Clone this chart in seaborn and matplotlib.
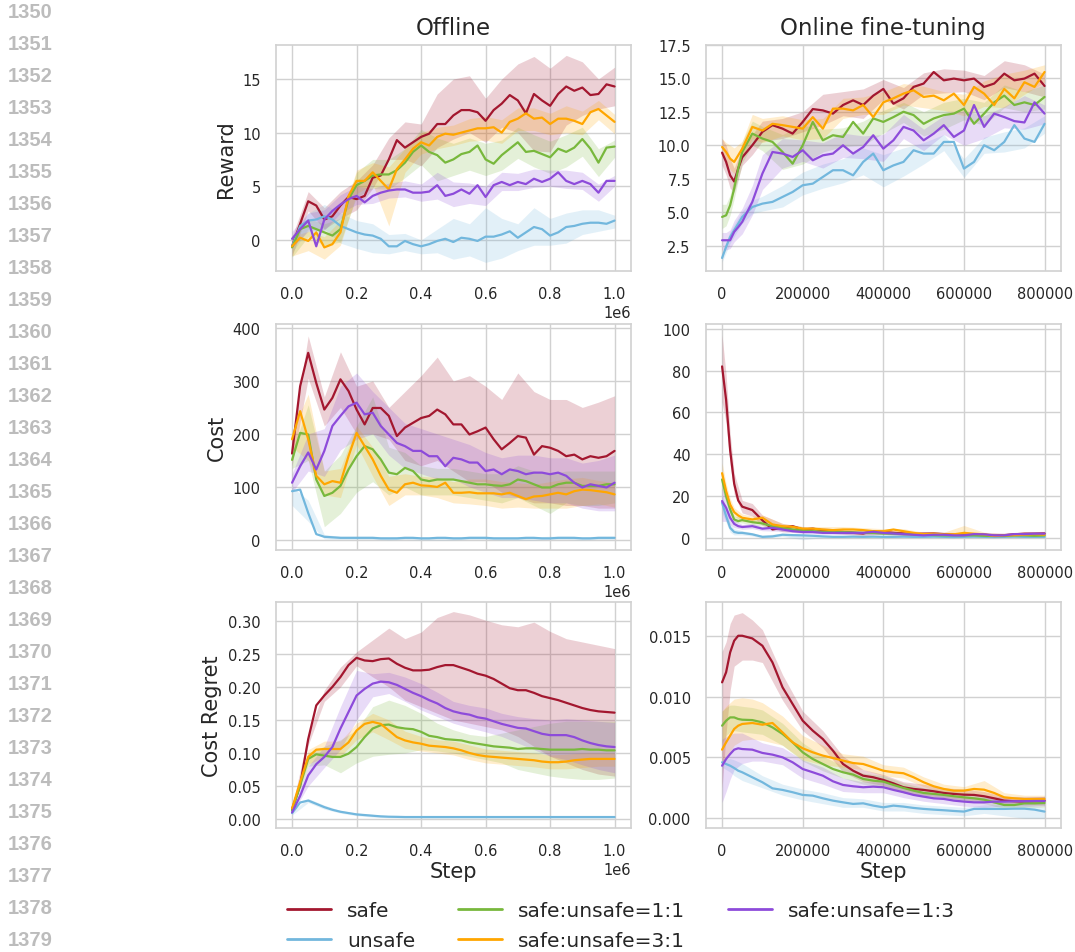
import matplotlib
matplotlib.use("Agg")
import matplotlib.pyplot as plt
import seaborn as sns
from matplotlib.lines import Line2D

# ---------------------------------------------------------------- series
labels = ["safe", "unsafe", "safe:unsafe=1:1", "safe:unsafe=3:1", "safe:unsafe=1:3"]
colors = {
    "safe": "#a3172f",
    "unsafe": "#72b7dd",
    "safe:unsafe=1:1": "#78b83c",
    "safe:unsafe=3:1": "#ffa600",
    "safe:unsafe=1:3": "#8d4bda",
}

# x grids (environment steps)
off_steps = list(range(0, 1_000_001, 25_000))
off_band_steps = list(range(0, 1_000_001, 50_000))
on_steps = [0, 10_000, 20_000, 30_000, 40_000, 50_000] + list(range(75_000, 800_001, 25_000))
on_band_steps = [0, 10_000, 20_000, 30_000, 50_000, 75_000] + list(range(100_000, 800_001, 50_000))

# ---------------------------------------------------------------- offline reward
off_reward = {
    "safe": [-0.6, 1.5, 3.6, 3.2, 1.9, 2.2, 3.2, 4.0, 3.8, 4.1, 5.8, 6.0, 7.5, 9.3, 8.6, 9.1, 9.6, 9.9, 10.8, 10.8,
             11.6, 12.1, 12.1, 11.9, 11.1, 12.1, 12.7, 13.5, 13.0, 11.8, 13.6, 13.0, 12.5, 13.6, 14.3, 13.9, 14.2,
             13.5, 13.6, 14.5, 14.3],
    "unsafe": [-0.6, 1.3, 1.8, 1.9, 2.2, 1.9, 1.3, 1.0, 0.7, 0.5, 0.4, 0.1, -0.6, -0.6, -0.1, -0.4, -0.6, -0.4, -0.1,
               0.1, -0.2, 0.2, 0.1, -0.1, 0.3, 0.3, 0.5, 0.8, 0.2, 0.7, 1.2, 1.0, 0.4, 0.7, 1.2, 1.3, 1.5, 1.6, 1.6,
               1.5, 1.8],
    "safe:unsafe=1:1": [-0.7, 1.0, 1.3, 1.0, 0.7, 0.4, 1.0, 3.8, 5.1, 5.5, 6.0, 6.1, 6.1, 6.5, 7.2, 8.2, 8.8, 8.2, 7.9,
                        7.2, 7.5, 8.0, 8.2, 8.8, 7.5, 7.1, 7.9, 8.5, 9.1, 8.2, 8.3, 8.0, 7.7, 8.5, 8.2, 8.6, 9.4, 8.5,
                        7.2, 8.6, 8.7],
    "safe:unsafe=3:1": [-0.6, 0.2, -0.1, 0.7, -0.7, -0.4, 0.7, 4.1, 5.5, 5.5, 6.3, 5.5, 4.7, 6.6, 7.5, 8.5, 9.1, 8.8,
                        9.6, 9.9, 9.8, 10.0, 10.2, 10.4, 10.4, 10.5, 10.0, 11.0, 11.3, 11.8, 11.3, 11.4, 10.8, 11.3,
                        11.3, 11.1, 10.8, 11.9, 12.2, 11.6, 11.0],
    "safe:unsafe=1:3": [0.1, 1.0, 1.8, -0.6, 1.9, 2.7, 3.3, 3.8, 4.1, 3.5, 4.1, 4.4, 4.6, 4.7, 4.7, 4.4, 4.4, 4.5, 5.1,
                        4.1, 4.3, 4.7, 4.3, 5.1, 4.0, 5.1, 5.4, 5.1, 5.4, 5.2, 5.7, 5.4, 5.7, 6.3, 5.5, 5.2, 5.5, 5.2,
                        4.4, 5.5, 5.5],
}
off_reward_hi = {
    "safe": [0.3, 4.5, 3.0, 4.5, 5.5, 7.0, 9.5, 11.0, 10.8, 13.6, 15.0, 15.3, 13.2, 15.0, 16.4, 17.1, 16.0, 17.2, 16.6, 15.0, 16.1],
    "unsafe": [0.0, 2.5, 3.3, 2.5, 1.8, 1.5, 0.5, 0.6, 0.0, 1.0, 2.0, 1.5, 3.0, 2.0, 1.5, 3.0, 2.0, 2.5, 2.8, 2.8, 2.3],
    "safe:unsafe=1:1": [0.0, 2.0, 1.5, 2.0, 6.3, 7.5, 7.5, 8.5, 10.3, 9.5, 9.0, 9.5, 9.0, 9.3, 10.5, 9.8, 9.2, 9.8, 10.5, 8.5, 9.3],
    "safe:unsafe=3:1": [0.3, 0.8, 0.3, 1.8, 6.5, 7.2, 6.8, 8.5, 10.0, 10.5, 10.7, 11.3, 11.5, 11.2, 12.3, 12.3, 11.8, 12.5, 12.0, 13.0, 11.7],
    "safe:unsafe=1:3": [0.8, 2.5, 2.8, 4.2, 5.0, 4.8, 5.3, 5.5, 5.2, 6.3, 5.4, 5.3, 5.0, 6.3, 6.2, 6.6, 6.5, 6.5, 6.3, 5.2, 6.0],
}
off_reward_lo = {
    "safe": [-1.5, 2.7, 1.0, 2.0, 2.8, 4.8, 7.5, 7.5, 6.9, 8.6, 9.4, 10.0, 9.1, 10.5, 10.0, 8.3, 8.2, 10.7, 11.6, 12.2, 12.5],
    "unsafe": [-1.2, 1.0, 1.0, -0.3, -0.8, -1.2, -1.3, -1.0, -1.3, -1.2, -1.8, -1.5, -2.1, -1.7, -1.0, -0.5, -0.5, -0.3, 0.5, 0.8, 1.1],
    "safe:unsafe=1:1": [-1.6, 0.3, -0.5, -0.2, 4.0, 4.8, 4.7, 5.8, 7.0, 5.5, 6.0, 6.5, 6.0, 6.5, 7.6, 6.8, 6.2, 6.8, 7.8, 5.9, 7.7],
    "safe:unsafe=3:1": [-1.5, -1.0, -1.8, -0.5, 4.3, 5.2, 1.3, 6.3, 8.0, 8.5, 8.8, 9.2, 9.3, 9.0, 10.2, 10.2, 9.8, 10.0, 9.8, 11.2, 9.9],
    "safe:unsafe=1:3": [-0.7, 0.8, 0.9, 2.5, 3.3, 3.4, 3.9, 4.0, 3.6, 3.8, 3.1, 3.4, 3.2, 4.6, 4.6, 4.9, 5.0, 4.8, 4.7, 3.6, 5.0],
}

# ---------------------------------------------------------------- online reward
on_reward = {
    "safe": [9.45, 8.76, 7.76, 7.3, 8.26, 9.1, 10.0, 11.0, 11.5, 11.24, 10.87, 11.74, 12.7, 12.6, 12.36, 13.0, 13.35,
             13.0, 13.7, 14.2, 13.1, 13.5, 14.35, 14.6, 15.46, 14.84, 14.97, 14.84, 14.97, 14.35, 14.6, 15.34, 14.84,
             14.97, 15.34, 14.42],
    "unsafe": [1.6, 2.43, 3.17, 3.67, 4.16, 4.66, 5.4, 5.65, 5.78, 6.15, 6.52, 7.02, 7.14, 7.64, 8.14, 8.14, 7.76, 8.76,
               9.38, 8.14, 8.5, 8.76, 9.63, 9.38, 9.38, 10.25, 10.25, 8.26, 8.76, 10.0, 9.63, 10.25, 11.5, 10.5, 10.25,
               11.6],
    "safe:unsafe=1:1": [4.66, 4.78, 5.53, 6.77, 8.26, 9.5, 10.87, 10.5, 10.25, 9.5, 8.63, 10.0, 11.74, 10.37, 10.75,
                        10.62, 11.74, 10.87, 12.0, 11.74, 12.1, 12.5, 12.25, 11.6, 12.0, 12.25, 12.36, 12.73, 11.6,
                        12.36, 13.2, 13.7, 13.0, 13.2, 13.0, 13.6],
    "safe:unsafe=3:1": [9.87, 9.5, 9.0, 8.76, 9.25, 9.75, 11.37, 11.1, 11.6, 11.5, 11.37, 11.24, 12.1, 11.24, 12.73,
                        12.73, 12.6, 13.0, 12.1, 13.2, 13.5, 13.85, 14.1, 13.6, 13.7, 13.35, 13.85, 13.0, 14.35, 13.85,
                        13.0, 14.2, 13.5, 14.7, 14.35, 15.46],
    "safe:unsafe=1:3": [2.92, 2.92, 2.92, 3.54, 3.9, 4.29, 5.78, 7.89, 9.5, 9.38, 9.13, 9.63, 8.88, 9.25, 9.38, 10.0,
                        9.38, 9.87, 10.75, 9.75, 10.37, 11.37, 11.1, 10.37, 10.87, 11.5, 10.62, 11.1, 13.0, 11.37,
                        12.36, 12.1, 11.8, 11.7, 13.2, 12.36],
}
on_reward_hi = {
    "safe": [10.5, 10.0, 9.0, 8.3, 9.8, 10.8, 11.8, 12.0, 12.5, 13.8, 14.0, 14.2, 14.9, 14.3, 15.4, 15.7, 15.6, 15.2, 16.3, 16.0, 15.3],
    "unsafe": [1.9, 2.8, 3.6, 4.1, 5.1, 5.9, 6.2, 7.0, 8.0, 8.6, 9.0, 9.8, 9.3, 9.8, 10.2, 10.8, 9.0, 10.6, 11.0, 11.3, 12.2],
    "safe:unsafe=1:1": [5.6, 5.6, 6.3, 7.6, 10.3, 11.8, 11.4, 10.8, 11.5, 11.2, 11.3, 11.8, 12.6, 13.2, 12.5, 13.2, 13.5, 13.2, 14.5, 14.0, 14.5],
    "safe:unsafe=3:1": [10.5, 10.2, 10.0, 9.8, 10.3, 12.3, 12.0, 12.2, 11.9, 12.0, 13.5, 13.6, 14.0, 14.6, 14.4, 14.0, 13.8, 14.8, 15.3, 15.6, 16.0],
    "safe:unsafe=1:3": [3.5, 3.5, 3.7, 4.4, 5.3, 7.0, 9.3, 10.5, 10.4, 10.2, 10.9, 10.7, 10.8, 12.3, 11.2, 12.2, 12.6, 12.2, 12.9, 13.7, 13.0],
}
on_reward_lo = {
    "safe": [8.5, 7.8, 6.8, 6.5, 8.5, 9.3, 10.3, 10.5, 11.0, 11.5, 12.2, 12.0, 13.4, 12.7, 13.8, 13.9, 14.0, 13.4, 14.3, 14.0, 13.6],
    "unsafe": [1.3, 2.0, 2.7, 3.2, 4.2, 4.9, 5.1, 5.4, 6.3, 6.8, 7.2, 7.8, 6.9, 7.7, 8.6, 9.6, 7.6, 9.4, 9.5, 9.8, 10.9],
    "safe:unsafe=1:1": [3.8, 4.0, 4.8, 6.0, 8.7, 10.0, 9.6, 8.2, 8.6, 9.5, 9.9, 10.0, 10.9, 11.7, 10.7, 11.2, 11.9, 11.5, 12.8, 12.5, 12.7],
    "safe:unsafe=3:1": [9.2, 8.8, 8.2, 7.9, 9.1, 10.5, 10.2, 10.7, 10.4, 10.5, 12.0, 12.3, 12.3, 13.0, 12.8, 12.6, 12.2, 12.9, 12.8, 13.8, 14.7],
    "safe:unsafe=1:3": [2.2, 2.2, 2.3, 2.8, 3.4, 4.8, 6.7, 8.3, 8.8, 8.3, 9.1, 9.0, 8.8, 10.5, 9.6, 10.8, 10.0, 10.5, 11.3, 11.2, 11.6],
}

# ---------------------------------------------------------------- offline cost
off_cost = {
    "safe": [163, 290, 353, 296, 246, 268, 303, 281, 246, 218, 249, 249, 234, 196, 212, 221, 230, 234, 246, 237, 218,
             218, 199, 205, 212, 190, 171, 183, 196, 193, 161, 177, 174, 168, 158, 161, 152, 158, 155, 158, 168],
    "unsafe": [92, 95, 51, 11, 6, 5, 4, 4, 4, 4, 4, 3, 3, 3, 4, 4, 3, 3, 4, 4, 3, 3, 4, 4, 4, 3, 3, 3, 3, 4, 4, 3, 3,
               4, 4, 4, 3, 3, 4, 4, 4],
    "safe:unsafe=1:1": [151, 202, 199, 114, 83, 89, 102, 133, 158, 177, 171, 152, 127, 124, 136, 130, 114, 111, 114,
                        114, 114, 111, 108, 105, 105, 103, 102, 105, 114, 111, 105, 99, 99, 105, 108, 108, 102, 102,
                        102, 105, 105],
    "safe:unsafe=3:1": [190, 243, 190, 121, 105, 111, 108, 158, 202, 177, 152, 121, 95, 89, 105, 108, 103, 102, 100,
                        108, 89, 89, 90, 88, 88, 88, 86, 89, 83, 77, 82, 83, 86, 89, 86, 92, 95, 94, 92, 90, 86],
    "safe:unsafe=1:3": [108, 139, 165, 133, 168, 215, 234, 252, 259, 237, 240, 215, 199, 183, 177, 168, 168, 158, 158,
                        139, 155, 152, 146, 146, 130, 133, 124, 133, 130, 124, 127, 127, 124, 127, 121, 108, 99, 105,
                        102, 99, 108],
}
off_cost_hi = {
    "safe": [190, 385, 270, 355, 290, 300, 250, 280, 310, 345, 300, 310, 290, 265, 315, 280, 265, 265, 250, 260, 272],
    "unsafe": [100, 75, 10, 7, 7, 7, 6, 7, 6, 6, 6, 7, 7, 6, 6, 6, 7, 7, 6, 7, 7],
    "safe:unsafe=1:1": [165, 255, 130, 160, 215, 270, 175, 165, 140, 135, 135, 130, 125, 125, 140, 130, 125, 130, 130, 130, 130],
    "safe:unsafe=3:1": [205, 275, 130, 135, 215, 175, 120, 125, 120, 118, 110, 115, 115, 110, 108, 105, 110, 115, 118, 112, 108],
    "safe:unsafe=1:3": [125, 200, 210, 290, 315, 280, 250, 220, 210, 200, 190, 180, 165, 155, 160, 160, 155, 155, 145, 150, 160],
}
off_cost_lo = {
    "safe": [140, 305, 215, 250, 200, 200, 190, 150, 140, 150, 130, 110, 110, 90, 80, 70, 70, 65, 65, 60, 60],
    "unsafe": [65, 35, 2, 1, 1, 1, 0, 1, 0, 0, 0, 1, 1, 0, 0, 0, 1, 1, 0, 1, 1],
    "safe:unsafe=1:1": [135, 150, 25, 50, 90, 110, 85, 100, 85, 85, 85, 80, 75, 70, 80, 65, 50, 70, 65, 65, 70],
    "safe:unsafe=3:1": [175, 150, 85, 80, 180, 120, 65, 85, 85, 80, 70, 68, 65, 60, 62, 60, 60, 60, 65, 68, 62],
    "safe:unsafe=1:3": [90, 130, 120, 170, 190, 200, 160, 135, 125, 115, 115, 100, 90, 80, 80, 75, 70, 70, 60, 55, 55],
}

# ---------------------------------------------------------------- online cost
on_cost = {
    "safe": [82, 66, 42, 26, 18, 15, 13.4, 8.5, 4.1, 4.9, 5.7, 4.1, 4.5, 3.7, 3.0, 2.9, 2.5, 2.2, 3.3, 2.9, 2.5, 2.2,
             1.9, 2.1, 2.2, 1.9, 1.6, 1.6, 1.9, 1.6, 1.1, 1.4, 1.8, 2.1, 2.1, 2.2],
    "unsafe": [16.9, 10.5, 4.9, 2.9, 2.5, 2.5, 1.8, 0.6, 0.8, 1.6, 1.4, 1.3, 1.1, 0.8, 0.6, 0.6, 0.7, 0.6, 0.7, 0.6,
               0.6, 0.7, 0.6, 0.6, 0.7, 0.6, 0.5, 0.6, 0.7, 0.6, 0.5, 0.6, 0.7, 0.6, 0.6, 0.6],
    "safe:unsafe=1:1": [28, 20, 13.7, 8.9, 8.1, 8.6, 7.6, 7.0, 5.7, 4.9, 4.1, 3.7, 3.3, 3.0, 3.0, 2.9, 2.7, 2.5, 2.5,
                        2.2, 2.1, 1.9, 1.8, 1.6, 1.4, 1.3, 1.3, 1.3, 1.3, 1.1, 1.0, 1.0, 1.3, 1.3, 1.1, 1.3],
    "safe:unsafe=3:1": [31, 22.5, 16, 12.4, 10.8, 9.7, 8.9, 9.7, 6.5, 5.7, 5.4, 4.5, 4.5, 4.1, 3.8, 4.1, 4.1, 3.8, 3.3,
                        3.3, 4.1, 3.3, 2.5, 1.9, 2.1, 1.8, 1.8, 2.5, 2.1, 1.8, 1.0, 1.3, 1.4, 1.6, 1.9, 1.6],
    "safe:unsafe=1:3": [17.7, 14.5, 9.7, 6.8, 5.7, 5.3, 5.7, 4.5, 4.9, 4.1, 3.3, 2.9, 2.9, 2.5, 2.5, 2.5, 2.5, 2.5,
                        3.0, 2.5, 2.2, 1.9, 1.6, 1.3, 1.6, 1.6, 1.3, 1.3, 1.9, 1.8, 1.3, 1.3, 1.9, 1.9, 2.1, 2.1],
}
on_cost_hi = {
    "safe": [97, 78, 50, 31, 18, 16.5, 11, 7, 5.5, 5, 4, 3.2, 4, 3.2, 3, 2.8, 2.6, 2.5, 2.4, 3, 3.2],
    "unsafe": [21, 13.5, 7, 4.5, 3.5, 2.6, 1.3, 2.4, 2.0, 1.4, 1.1, 1.1, 1.1, 1.1, 1.1, 1.1, 1.1, 1.1, 1.1, 1.1, 1.1],
    "safe:unsafe=1:1": [32, 23, 16, 10.5, 10, 9.5, 8.5, 6, 4.6, 3.8, 3.6, 3.2, 2.9, 2.5, 2.2, 1.9, 1.9, 1.7, 1.6, 1.9, 1.9],
    "safe:unsafe=3:1": [36, 26, 19, 14.5, 11.5, 10.5, 11, 7, 5.5, 5.5, 5.5, 5, 4.5, 4.5, 2.8, 2.8, 6.0, 2.8, 2, 2.4, 2.4],
    "safe:unsafe=1:3": [24, 18.5, 12.5, 8.5, 6.5, 7, 5.5, 5, 3.6, 3.2, 3.2, 3.2, 3.2, 2.6, 2, 2.2, 2, 2.5, 2, 2.6, 2.8],
}
on_cost_lo = {
    "safe": [65, 55, 35, 21, 12, 10.5, 6, 3, 2.8, 2.5, 1.8, 1.2, 1.8, 1.2, 1.2, 1, 0.8, 0.8, 0.6, 1.2, 1.3],
    "unsafe": [12, 7.5, 2.8, 1.5, 1.5, 1.0, 0, 0.8, -0.8, 0.2, 0.1, 0.1, 0.1, 0.1, 0.1, 0.1, 0.1, 0.1, 0.1, 0.1, 0.1],
    "safe:unsafe=1:1": [23, 17, 11.5, 7.5, 7.2, 6.2, 5.8, 3.9, 2.9, 2.3, 2.2, 1.9, 1.6, 1.3, 1.1, 0.8, 0.8, 0.6, 0.5, 0.8, 0.8],
    "safe:unsafe=3:1": [26, 19, 13, 10.5, 8, 7.5, 8.2, 4.5, 3.5, 3, 3, 2.8, 2.2, 2.3, 1.2, 1.0, 1.2, 1.0, 0.7, 0.9, 0.9],
    "safe:unsafe=1:3": [8, 8, 6.5, 5, 4.2, 4.5, 3.5, 3.2, 2.2, 1.8, 1.8, 1.8, 1.8, 1.3, 0.7, 1.0, 0.7, 1.1, 0.7, 1.2, 1.4],
}

# ---------------------------------------------------------------- offline cost regret
off_regret = {
    "safe": [0.015, 0.051, 0.121, 0.172, 0.187, 0.200, 0.215, 0.233, 0.244, 0.240, 0.239, 0.242, 0.243, 0.235, 0.229,
             0.225, 0.225, 0.226, 0.230, 0.233, 0.233, 0.229, 0.225, 0.220, 0.217, 0.212, 0.205, 0.198, 0.195, 0.195,
             0.191, 0.186, 0.183, 0.180, 0.176, 0.172, 0.168, 0.165, 0.163, 0.162, 0.161],
    "unsafe": [0.009, 0.025, 0.028, 0.023, 0.018, 0.014, 0.011, 0.009, 0.007, 0.006, 0.005, 0.004, 0.0035, 0.0033,
               0.003, 0.003, 0.003, 0.003, 0.003, 0.003, 0.003, 0.003, 0.003, 0.003, 0.003, 0.003, 0.003, 0.003,
               0.003, 0.003, 0.003, 0.003, 0.003, 0.003, 0.003, 0.003, 0.003, 0.003, 0.003, 0.003, 0.003],
    "safe:unsafe=1:1": [0.013, 0.051, 0.091, 0.098, 0.096, 0.094, 0.094, 0.099, 0.109, 0.124, 0.137, 0.142, 0.143,
                        0.139, 0.137, 0.136, 0.132, 0.126, 0.124, 0.121, 0.120, 0.119, 0.116, 0.114, 0.112, 0.110,
                        0.109, 0.108, 0.106, 0.107, 0.107, 0.106, 0.105, 0.105, 0.105, 0.105, 0.106, 0.105, 0.105,
                        0.104, 0.104],
    "safe:unsafe=3:1": [0.016, 0.056, 0.094, 0.105, 0.106, 0.106, 0.106, 0.116, 0.134, 0.144, 0.147, 0.144, 0.134,
                        0.124, 0.119, 0.116, 0.114, 0.111, 0.110, 0.109, 0.107, 0.104, 0.100, 0.097, 0.095, 0.094,
                        0.093, 0.092, 0.091, 0.090, 0.089, 0.087, 0.086, 0.086, 0.087, 0.089, 0.090, 0.091, 0.091,
                        0.091, 0.091],
    "safe:unsafe=1:3": [0.010, 0.035, 0.066, 0.083, 0.094, 0.109, 0.137, 0.162, 0.187, 0.197, 0.205, 0.208, 0.207,
                        0.203, 0.197, 0.191, 0.186, 0.180, 0.175, 0.168, 0.163, 0.160, 0.158, 0.154, 0.152, 0.148,
                        0.144, 0.141, 0.138, 0.137, 0.133, 0.129, 0.127, 0.127, 0.127, 0.124, 0.119, 0.115, 0.112,
                        0.110, 0.109],
}
off_regret_hi = {
    "safe": [0.018, 0.128, 0.195, 0.23, 0.253, 0.271, 0.289, 0.273, 0.283, 0.305, 0.314, 0.309, 0.301, 0.294, 0.291, 0.298, 0.284, 0.273, 0.268, 0.263, 0.258],
    "unsafe": [0.012, 0.031, 0.021, 0.013, 0.009, 0.007, 0.005, 0.0045, 0.0045, 0.0045, 0.0045, 0.0045, 0.0045, 0.0045, 0.0045, 0.0045, 0.0045, 0.0045, 0.0045, 0.0045, 0.0045],
    "safe:unsafe=1:1": [0.016, 0.1, 0.11, 0.12, 0.135, 0.17, 0.18, 0.172, 0.16, 0.145, 0.135, 0.128, 0.125, 0.13, 0.135, 0.14, 0.145, 0.148, 0.148, 0.148, 0.148],
    "safe:unsafe=3:1": [0.019, 0.105, 0.118, 0.118, 0.145, 0.16, 0.15, 0.133, 0.125, 0.12, 0.118, 0.112, 0.106, 0.104, 0.102, 0.1, 0.097, 0.098, 0.1, 0.1, 0.1],
    "safe:unsafe=1:3": [0.012, 0.08, 0.11, 0.17, 0.225, 0.22, 0.222, 0.215, 0.205, 0.192, 0.178, 0.172, 0.168, 0.16, 0.155, 0.152, 0.15, 0.152, 0.15, 0.148, 0.146],
}
off_regret_lo = {
    "safe": [0.012, 0.112, 0.178, 0.2, 0.232, 0.215, 0.2, 0.18, 0.17, 0.16, 0.15, 0.145, 0.14, 0.135, 0.125, 0.11, 0.095, 0.085, 0.075, 0.068, 0.065],
    "unsafe": [0.006, 0.025, 0.015, 0.009, 0.005, 0.003, 0.002, 0.0015, 0.0015, 0.0015, 0.0015, 0.0015, 0.0015, 0.0015, 0.0015, 0.0015, 0.0015, 0.0015, 0.0015, 0.0015, 0.0015],
    "safe:unsafe=1:1": [0.010, 0.08, 0.082, 0.07, 0.085, 0.095, 0.098, 0.1, 0.105, 0.103, 0.1, 0.095, 0.09, 0.085, 0.075, 0.07, 0.065, 0.062, 0.06, 0.06, 0.062],
    "safe:unsafe=3:1": [0.013, 0.083, 0.094, 0.095, 0.12, 0.132, 0.12, 0.107, 0.103, 0.1, 0.097, 0.09, 0.085, 0.083, 0.081, 0.079, 0.076, 0.076, 0.078, 0.08, 0.08],
    "safe:unsafe=1:3": [0.008, 0.05, 0.078, 0.105, 0.15, 0.185, 0.19, 0.178, 0.165, 0.155, 0.145, 0.138, 0.132, 0.125, 0.115, 0.105, 0.095, 0.09, 0.082, 0.075, 0.07],
}

# ---------------------------------------------------------------- online cost regret
on_regret = {
    "safe": [0.01117, 0.0120, 0.01363, 0.01459, 0.0150, 0.0150, 0.01478, 0.01418, 0.01281, 0.01076, 0.00939, 0.00802,
             0.0072, 0.00651, 0.00556, 0.00446, 0.00391, 0.0035, 0.00337, 0.00315, 0.00287, 0.00255, 0.00241,
             0.00233, 0.00222, 0.00208, 0.002, 0.00194, 0.00192, 0.00181, 0.00164, 0.00145, 0.0014, 0.00137, 0.0014,
             0.00145],
    "unsafe": [0.0046, 0.00446, 0.00432, 0.00413, 0.00391, 0.00378, 0.00337, 0.00296, 0.00246, 0.00233, 0.00214,
               0.00192, 0.00186, 0.00164, 0.00145, 0.00131, 0.00118, 0.00123, 0.00104, 0.0009, 0.00104, 0.00096,
               0.00085, 0.00077, 0.00071, 0.00066, 0.0006, 0.00055, 0.00077, 0.00077, 0.00077, 0.00077, 0.00079,
               0.00079, 0.00071, 0.00055],
    "safe:unsafe=1:1": [0.00761, 0.00802, 0.00829, 0.00829, 0.00816, 0.0081, 0.00807, 0.00788, 0.00747, 0.00693,
                        0.00624, 0.00542, 0.00487, 0.00446, 0.00405, 0.00378, 0.00359, 0.00323, 0.00309, 0.00301,
                        0.00274, 0.00249, 0.00227, 0.00208, 0.002, 0.00192, 0.00181, 0.00172, 0.00164, 0.00153,
                        0.00131, 0.00109, 0.00109, 0.00123, 0.00123, 0.00126],
    "safe:unsafe=3:1": [0.00564, 0.00624, 0.00679, 0.00734, 0.00761, 0.00775, 0.00783, 0.00769, 0.00783, 0.00706,
                        0.00624, 0.00575, 0.00542, 0.00515, 0.00495, 0.00474, 0.00454, 0.00446, 0.00419, 0.00391,
                        0.00378, 0.0037, 0.00337, 0.00296, 0.00263, 0.00241, 0.00227, 0.00227, 0.00241, 0.00235,
                        0.00208, 0.00172, 0.00164, 0.00159, 0.00159, 0.00159],
    "safe:unsafe=1:3": [0.00432, 0.00487, 0.00528, 0.00564, 0.00575, 0.00569, 0.00564, 0.00537, 0.00523, 0.00501,
                        0.0046, 0.00405, 0.00378, 0.0035, 0.00304, 0.00274, 0.00263, 0.00255, 0.0026, 0.00255,
                        0.00233, 0.00214, 0.00192, 0.00178, 0.00164, 0.00159, 0.00145, 0.00137, 0.00131, 0.00131,
                        0.00137, 0.00137, 0.0014, 0.0014, 0.00142, 0.00142],
}
on_regret_hi = {
    "safe": [0.0137, 0.0145, 0.016, 0.0167, 0.0169, 0.0163, 0.0155, 0.0118, 0.0088, 0.0072, 0.0051, 0.004, 0.0036, 0.003, 0.0028, 0.0025, 0.0024, 0.0022, 0.0018, 0.0017, 0.0018],
    "unsafe": [0.0049, 0.0049, 0.0049, 0.0048, 0.0045, 0.004, 0.0035, 0.0028, 0.0024, 0.0021, 0.0017, 0.0016, 0.0013, 0.0013, 0.0011, 0.001, 0.0009, 0.0011, 0.0011, 0.0011, 0.0009],
    "safe:unsafe=1:1": [0.0088, 0.0091, 0.0093, 0.0093, 0.0092, 0.0091, 0.0089, 0.0078, 0.0062, 0.0051, 0.0043, 0.0037, 0.0035, 0.0029, 0.0025, 0.0023, 0.0021, 0.0019, 0.0014, 0.0016, 0.0016],
    "safe:unsafe=3:1": [0.0088, 0.0092, 0.0095, 0.0098, 0.0099, 0.0098, 0.0095, 0.0084, 0.0068, 0.006, 0.0053, 0.0051, 0.0044, 0.0042, 0.0034, 0.0028, 0.0026, 0.0031, 0.0021, 0.0019, 0.0019],
    "safe:unsafe=1:3": [0.0065, 0.0067, 0.0069, 0.007, 0.007, 0.0066, 0.0062, 0.0058, 0.0048, 0.0042, 0.0033, 0.003, 0.003, 0.0026, 0.0022, 0.002, 0.0018, 0.0017, 0.0018, 0.0018, 0.0018],
}
on_regret_lo = {
    "safe": [0.0025, 0.007, 0.0105, 0.0125, 0.013, 0.013, 0.0128, 0.0097, 0.0072, 0.0058, 0.0038, 0.003, 0.0027, 0.0021, 0.0019, 0.0017, 0.0015, 0.0014, 0.0011, 0.0011, 0.0011],
    "unsafe": [0.0042, 0.0040, 0.0038, 0.0035, 0.0031, 0.0028, 0.0025, 0.0019, 0.0015, 0.0012, 0.0009, 0.0009, 0.0006, 0.0006, 0.0004, 0.0003, 0.0002, 0.0004, 0.0002, 0.0, 0.0],
    "safe:unsafe=1:1": [0.0062, 0.0068, 0.0071, 0.0072, 0.0071, 0.007, 0.0069, 0.006, 0.0047, 0.0039, 0.0033, 0.0028, 0.0026, 0.0021, 0.0017, 0.0016, 0.0014, 0.0012, 0.0008, 0.0009, 0.0009],
    "safe:unsafe=3:1": [0.0045, 0.0050, 0.0055, 0.006, 0.0064, 0.0065, 0.0064, 0.006, 0.0048, 0.0044, 0.0042, 0.004, 0.0035, 0.0033, 0.0026, 0.0021, 0.002, 0.0019, 0.0014, 0.0013, 0.0013],
    "safe:unsafe=1:3": [0.0013, 0.0022, 0.0032, 0.0040, 0.0045, 0.0047, 0.0047, 0.0044, 0.0033, 0.0028, 0.0022, 0.0021, 0.0021, 0.0017, 0.0014, 0.0012, 0.001, 0.0009, 0.001, 0.001, 0.001],
}

row_titles = ["Reward", "Cost", "Cost Regret"]
col_titles = ["Offline", "Online fine-tuning"]
page_line_numbers = list(range(1350, 1380))

# ---------------------------------------------------------------- style
sns.set_theme(style="whitegrid", rc={
    "axes.edgecolor": "0.82",
    "grid.color": "0.82",
    "axes.linewidth": 1.2,
    "grid.linewidth": 1.0,
    "xtick.labelsize": 10.5,
    "ytick.labelsize": 10.5,
    "axes.labelsize": 15,
    "axes.titlesize": 16.5,
    "text.color": "0.15",
    "axes.labelcolor": "0.15",
    "xtick.color": "0.15",
    "ytick.color": "0.15",
})
plt.rcParams["font.family"] = ["DejaVu Sans"]

fig = plt.figure(figsize=(10.75, 9.53), dpi=100)

col_left = [0.2567, 0.6567]
col_width = 0.330
row_bottom = [0.7146, 0.4218, 0.1301]
row_height = 0.2375

panels = [
    [(off_steps, off_reward, off_band_steps, off_reward_lo, off_reward_hi),
     (on_steps, on_reward, on_band_steps, on_reward_lo, on_reward_hi)],
    [(off_steps, off_cost, off_band_steps, off_cost_lo, off_cost_hi),
     (on_steps, on_cost, on_band_steps, on_cost_lo, on_cost_hi)],
    [(off_steps, off_regret, off_band_steps, off_regret_lo, off_regret_hi),
     (on_steps, on_regret, on_band_steps, on_regret_lo, on_regret_hi)],
]
ylims = [
    [(-2.9, 18.2), (0.63, 17.5)],
    [(-19, 408), (-5.7, 102.4)],
    [(-0.0136, 0.329), (-0.0008, 0.0178)],
]
yticks = [
    [[0, 5, 10, 15], [2.5, 5.0, 7.5, 10.0, 12.5, 15.0, 17.5]],
    [[0, 100, 200, 300, 400], [0, 20, 40, 60, 80, 100]],
    [[0.0, 0.05, 0.10, 0.15, 0.20, 0.25, 0.30], [0.0, 0.005, 0.010, 0.015]],
]
xlims = [(-50_000, 1_050_000), (-40_000, 840_000)]
xticks = [[0, 200_000, 400_000, 600_000, 800_000, 1_000_000],
          [0, 200_000, 400_000, 600_000, 800_000]]

for r in range(3):
    for c in range(2):
        ax = fig.add_axes([col_left[c], row_bottom[r], col_width, row_height])
        steps, means, band_steps, lo, hi = panels[r][c]
        for lab in labels:
            ax.fill_between(band_steps, lo[lab], hi[lab], color=colors[lab],
                            alpha=0.2, linewidth=0)
            sns.lineplot(x=steps, y=means[lab], color=colors[lab],
                         linewidth=1.6, ax=ax)
        ax.set_xlim(*xlims[c])
        ax.set_ylim(*ylims[r][c])
        ax.set_xticks(xticks[c])
        ax.set_yticks(yticks[r][c])
        ax.tick_params(axis="both", pad=5)
        ax.set_ylabel(row_titles[r] if c == 0 else "")
        ax.set_xlabel("Step" if r == 2 else "", labelpad=2)
        if r == 0:
            ax.set_title(col_titles[c], pad=8)

handles = [Line2D([0], [0], color=colors[lab], linewidth=2) for lab in labels]
fig.legend(handles, labels, ncol=3, frameon=False, fontsize=14.5,
           loc="upper left", bbox_to_anchor=(287 / 1075, 1 - 902 / 953),
           borderpad=0, borderaxespad=0, handlelength=2.2, handletextpad=0.8,
           columnspacing=2.1, labelspacing=0.55)

# page line numbers in the left margin
for i, num in enumerate(page_line_numbers):
    fig.text(8 / 1075, 1 - (13 + 32 * i) / 953, str(num), ha="left", va="center",
             fontsize=14.5, fontweight="bold", color="#bcbcbc",
             family=["Liberation Sans", "DejaVu Sans"])

fig.savefig("out.png", dpi=100)
